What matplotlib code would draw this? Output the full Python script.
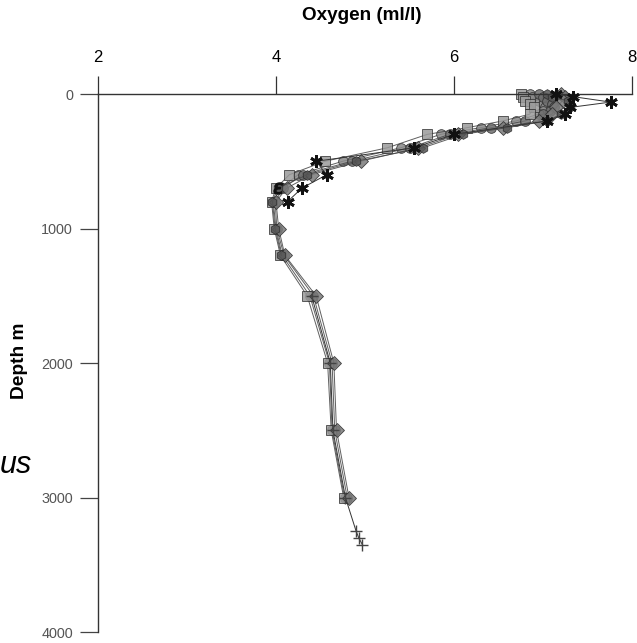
import matplotlib.pyplot as plt

plt.rcParams['font.family'] = ['Liberation Sans', 'DejaVu Sans']

# CTD casts: depth (m) and dissolved oxygen (ml/l)
depth_a = [0, 20, 50, 75, 100, 125, 150, 200, 250, 300, 400, 500, 600, 700, 800, 1000, 1200, 1500, 2000, 2500, 3000]
oxy_a = [6.85, 6.88, 6.95, 7.00, 7.02, 7.00, 6.95, 6.70, 6.30, 5.85, 5.40, 4.75, 4.25, 4.05, 3.97, 4.00, 4.07, 4.38, 4.60, 4.63, 4.77]

depth_b = [0, 20, 50, 75, 100, 125, 150, 200, 250, 300, 400, 500, 600, 700, 800, 1000, 1200, 1500, 2000, 2500, 3000]
oxy_b = [6.95, 7.00, 7.05, 7.10, 7.12, 7.08, 7.00, 6.80, 6.42, 5.95, 5.50, 4.85, 4.30, 4.08, 3.99, 4.01, 4.09, 4.42, 4.63, 4.66, 4.80]

depth_c = [0, 20, 50, 75, 100, 150, 200, 250, 300, 400, 500, 600, 700, 800, 1000, 1200, 1500, 2000, 2500, 3000]
oxy_c = [6.75, 6.78, 6.80, 6.85, 6.90, 6.85, 6.55, 6.15, 5.70, 5.25, 4.55, 4.15, 4.00, 3.95, 3.98, 4.05, 4.35, 4.58, 4.62, 4.76]

depth_d = [0, 20, 50, 100, 150, 200, 250, 300, 400, 500, 600, 700, 800, 1000, 1200, 1500, 2000, 2500, 3000]
oxy_d = [7.20, 7.25, 7.22, 7.15, 7.10, 6.95, 6.55, 6.05, 5.60, 4.95, 4.40, 4.12, 4.00, 4.03, 4.10, 4.45, 4.65, 4.68, 4.82]

depth_e = [0, 20, 60, 100, 150, 200, 300, 400, 500, 600, 700, 800]
oxy_e = [7.15, 7.34, 7.76, 7.30, 7.25, 7.05, 6.00, 5.55, 4.45, 4.57, 4.29, 4.13]

depth_f = [0, 25, 50, 100, 150, 200, 250, 300, 400, 500, 600, 700, 800, 1000, 1200]
oxy_f = [7.05, 7.10, 7.28, 7.30, 7.20, 7.05, 6.60, 6.10, 5.65, 4.90, 4.35, 4.02, 3.96, 3.99, 4.06]

depth_g = [1500, 2000, 2500, 3000, 3250, 3300, 3350]
oxy_g = [4.40, 4.61, 4.64, 4.78, 4.90, 4.93, 4.97]

asterisk = (6, 2, 0)

casts = [
    (depth_a, oxy_a, 'o', '#8a8a8a'),
    (depth_b, oxy_b, 'o', '#6e6e6e'),
    (depth_c, oxy_c, 's', '#9a9a9a'),
    (depth_d, oxy_d, 'D', '#7a7a7a'),
    (depth_e, oxy_e, asterisk, '#111111'),
    (depth_f, oxy_f, 'h', '#555555'),
    (depth_g, oxy_g, '+', '#444444'),
]

fig = plt.figure(figsize=(6.37, 6.43), dpi=100)
ax = fig.add_axes([0.1538, 0.0171, 0.8384, 0.8367])

for d, o, m, c in casts:
    if m in (asterisk, '+'):
        ax.plot(o, d, color='#333333', lw=0.7, marker=m, ms=9, mfc=c, mec=c,
                mew=2.0 if m == asterisk else 1.0, clip_on=False, zorder=3)
    else:
        ax.plot(o, d, color='#444444', lw=0.7, marker=m, ms=7, mfc=c,
                mec='#2a2a2a', mew=0.6, alpha=0.85, clip_on=False)

# stray glyph marker at the oxygen minimum
ax.plot([4.02], [700], marker='$\\epsilon$', ms=8, color='#111111', ls='none',
        clip_on=False, zorder=4)

ax.set_xlim(2, 8)
ax.set_ylim(4000, 0)
ax.set_xticks([2, 4, 6, 8])
ax.set_yticks([0, 1000, 2000, 3000, 4000])

ax.xaxis.tick_top()
ax.spines['right'].set_visible(False)
ax.spines['bottom'].set_visible(False)
for s in ('top', 'left'):
    ax.spines[s].set_color('#333333')
    ax.spines[s].set_linewidth(1.0)

ax.tick_params(axis='x', direction='out', length=13, width=0.9, color='#333333',
               labelsize=12, labelcolor='black', pad=8)
ax.tick_params(axis='y', direction='out', length=13, width=0.9, color='#444444',
               labelsize=10.4, labelcolor='#555555', pad=5)

fig.text(362 / 637, 1 - 16 / 643, 'Oxygen (ml/l)', ha='center', va='center',
         fontsize=13.6, fontweight='bold')
fig.text(20 / 637, 1 - 361 / 643, 'Depth m', ha='center', va='center',
         rotation=90, fontsize=13.8, fontweight='bold')
fig.text(0, 1 - 473 / 643, 'us', ha='left', va='baseline', fontsize=22,
         style='italic')

fig.savefig('out.png', dpi=100)
